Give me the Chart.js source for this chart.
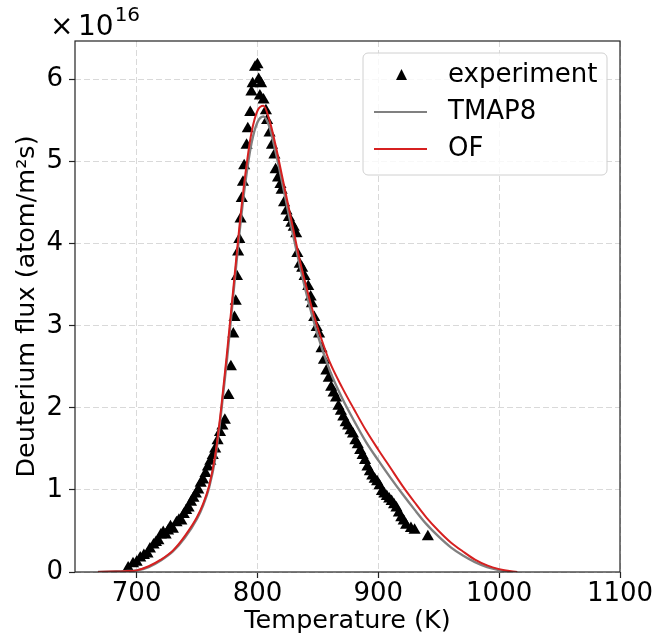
<!DOCTYPE html>
<html>
<head>
<meta charset="utf-8">
<script src="https://cdn.jsdelivr.net/npm/chart.js@4.4.1/dist/chart.umd.min.js"></script>
<style>
  html, body { margin: 0; padding: 0; background: #fff; }
  #wrap { width: 655px; height: 637px; }
</style>
</head>
<body>
<div id="wrap"><canvas id="tdsChart"></canvas></div>
<script>
// flux values are in units of 1e16 atom/m^2s
const expTemp = [693, 697, 700, 703, 706, 709, 711, 714, 716, 718, 720, 722, 724, 726, 728, 730, 733, 735, 737, 739,
  741, 743, 745, 747, 749, 751, 753, 755, 757, 759, 761, 763, 765, 767, 769, 771, 773,
  776, 778, 780, 781, 782, 783, 784, 785, 786, 787, 788, 789, 791, 792, 794, 795, 796, 798, 800, 801, 802, 803, 805, 807, 808,
  810, 812, 814, 815, 817, 819, 820, 822, 824, 826, 828, 830, 832, 833, 835, 837, 839, 842, 844, 845, 847, 849,
  851, 853, 855, 857, 859, 861, 863, 865, 867, 869, 871, 873, 875, 877, 879, 881, 883, 885, 887, 889,
  891, 893, 895, 897, 899, 901, 903, 905, 907, 909, 911, 913, 915, 917, 919, 921, 923, 927, 930, 941];
const expFlux = [0.05, 0.10, 0.12, 0.17, 0.20, 0.22, 0.28, 0.33, 0.36, 0.38, 0.45, 0.48, 0.45, 0.50, 0.55, 0.52, 0.60, 0.63, 0.62, 0.70,
  0.75, 0.78, 0.85, 0.90, 0.95, 1.00, 1.08, 1.12, 1.20, 1.28, 1.35, 1.42, 1.50, 1.60, 1.70, 1.78, 1.85,
  2.15, 2.50, 2.90, 3.10, 3.30, 3.60, 3.90, 4.05, 4.30, 4.55, 4.75, 4.95, 5.20, 5.40, 5.60, 5.85, 5.95, 6.15, 6.18, 6.00, 5.80, 5.95, 5.75, 5.62, 5.50,
  5.35, 5.20, 5.08, 4.90, 4.80, 4.72, 4.65, 4.50, 4.40, 4.32, 4.25, 4.20, 4.12, 3.88, 3.75, 3.70, 3.60, 3.48, 3.35, 3.27, 3.10, 2.98,
  2.90, 2.72, 2.58, 2.45, 2.36, 2.25, 2.18, 2.12, 2.02, 1.96, 1.89, 1.82, 1.78, 1.72, 1.68, 1.60, 1.55, 1.48, 1.42, 1.36,
  1.28, 1.22, 1.17, 1.13, 1.10, 1.05, 0.98, 0.95, 0.92, 0.89, 0.86, 0.82, 0.78, 0.72, 0.66, 0.62, 0.57, 0.53, 0.51, 0.43];

const tmapTemp = [668, 680, 690, 700, 710, 720, 730, 740, 750, 755, 760, 765, 770, 775, 780, 785, 790, 795, 800, 805,
  810, 815, 820, 825, 830, 840, 850, 860, 870, 880, 890, 900, 910, 920, 930, 940, 950, 960, 970, 980, 990, 1000, 1008];
const tmapFlux = [0, 0.005, 0.01, 0.02, 0.06, 0.14, 0.25, 0.42, 0.65, 0.81, 1.03, 1.38, 1.95, 2.62, 3.38, 4.12, 4.75, 5.22, 5.48, 5.55,
  5.42, 5.12, 4.78, 4.42, 4.07, 3.42, 2.88, 2.45, 2.12, 1.84, 1.58, 1.36, 1.15, 0.95, 0.76, 0.58, 0.43, 0.30, 0.20, 0.12, 0.06, 0.025, 0];

const ofTemp = [668, 680, 690, 700, 710, 720, 730, 740, 750, 755, 760, 765, 770, 775, 780, 785, 790, 795, 800, 805,
  810, 815, 820, 825, 830, 835, 840, 845, 850, 855, 860, 870, 880, 890, 900, 910, 920, 930, 940, 950, 960, 970, 980, 990, 1000, 1010, 1015];
const ofFlux = [0, 0.005, 0.01, 0.02, 0.07, 0.15, 0.26, 0.44, 0.67, 0.83, 1.05, 1.42, 2.00, 2.70, 3.45, 4.20, 4.85, 5.35, 5.62, 5.68,
  5.50, 5.20, 4.85, 4.50, 4.15, 3.80, 3.50, 3.22, 2.97, 2.75, 2.55, 2.25, 1.98, 1.72, 1.49, 1.27, 1.05, 0.85, 0.66, 0.50, 0.36, 0.25, 0.15, 0.08, 0.035, 0.008, 0];

const xTicks = [700, 800, 900, 1000, 1100];
const yTicks = [0, 1, 2, 3, 4, 5, 6];
const legendLabels = ['experiment', 'TMAP8', 'OF'];

const FONT = 'DejaVu Sans';
const pts = (xs, ys) => xs.map((x, i) => ({x, y: ys[i]}));

const framePlugin = {
  id: 'frame',
  afterDraw(chart) {
    const {ctx, chartArea: a} = chart;
    ctx.save();
    ctx.strokeStyle = '#222';
    ctx.lineWidth = 1.2;
    ctx.strokeRect(a.left, a.top, a.right - a.left, a.bottom - a.top);

    // offset text  x10^16
    ctx.fillStyle = '#000';
    ctx.textBaseline = 'alphabetic';
    ctx.font = `28px "${FONT}"`;
    ctx.fillText('×', 50, 35);
    ctx.fillText('10', 78, 35);
    const w10 = ctx.measureText('10').width;
    ctx.font = `20px "${FONT}"`;
    ctx.fillText('16', 79 + w10, 21);

    // legend
    const lx = 363, ly = 53, lw = 244, lh = 122;
    ctx.beginPath();
    ctx.roundRect(lx, ly, lw, lh, 5);
    ctx.fillStyle = 'rgba(255,255,255,0.8)';
    ctx.fill();
    ctx.strokeStyle = '#d0d0d0';
    ctx.lineWidth = 1;
    ctx.stroke();

    const rows = [75, 112, 149];
    ctx.fillStyle = '#000';
    ctx.beginPath();
    ctx.moveTo(401.5, rows[0] - 6);
    ctx.lineTo(407, rows[0] + 5);
    ctx.lineTo(396, rows[0] + 5);
    ctx.closePath();
    ctx.fill();
    ctx.lineWidth = 2.2;
    ctx.strokeStyle = '#808080';
    ctx.beginPath(); ctx.moveTo(374, rows[1]); ctx.lineTo(427, rows[1]); ctx.stroke();
    ctx.strokeStyle = '#d62020';
    ctx.beginPath(); ctx.moveTo(374, rows[2]); ctx.lineTo(427, rows[2]); ctx.stroke();

    ctx.fillStyle = '#000';
    ctx.font = `26px "${FONT}"`;
    ctx.textBaseline = 'middle';
    legendLabels.forEach((t, i) => ctx.fillText(t, 448, rows[i]));
    ctx.restore();
  }
};

new Chart(document.getElementById('tdsChart'), {
  type: 'scatter',
  data: {
    datasets: [
      {
        label: legendLabels[0],
        data: pts(expTemp, expFlux),
        pointStyle: 'triangle',
        pointRadius: 7,
        backgroundColor: '#000',
        borderColor: '#000',
        borderWidth: 0,
        order: 3
      },
      {
        label: legendLabels[1],
        data: pts(tmapTemp, tmapFlux),
        showLine: true,
        borderColor: '#808080',
        borderWidth: 2.4,
        pointRadius: 0,
        cubicInterpolationMode: 'monotone',
        order: 2
      },
      {
        label: legendLabels[2],
        data: pts(ofTemp, ofFlux),
        showLine: true,
        borderColor: '#d62020',
        borderWidth: 2,
        pointRadius: 0,
        cubicInterpolationMode: 'monotone',
        order: 1
      }
    ]
  },
  options: {
    responsive: true,
    maintainAspectRatio: false,
    animation: false,
    layout: { padding: { top: 41, right: 35, left: 12, bottom: 0 } },
    plugins: { legend: { display: false }, tooltip: { enabled: false } },
    scales: {
      x: {
        type: 'linear',
        min: 649,
        max: 1100,
        afterBuildTicks: s => { s.ticks = xTicks.map(v => ({value: v})); },
        afterFit: s => { s.height = 65; },
        ticks: { color: '#000', font: { family: FONT, size: 26 }, padding: 1, maxRotation: 0, callback: v => String(v) },
        grid: { color: '#d9d9d9', tickColor: '#222', tickLength: 6, tickWidth: 1.2 },
        border: { display: false, dash: [6, 3] },
        title: { display: true, text: 'Temperature (K)', color: '#000', font: { family: FONT, size: 25.5 }, padding: { top: 0, bottom: 0 } }
      },
      y: {
        type: 'linear',
        min: 0,
        max: 6.47,
        afterBuildTicks: s => { s.ticks = yTicks.map(v => ({value: v})); },
        afterFit: s => { s.width = 63; },
        ticks: { color: '#000', font: { family: FONT, size: 26 }, padding: 6, callback: v => String(v) },
        grid: { color: '#d9d9d9', tickColor: '#222', tickLength: 6, tickWidth: 1.2 },
        border: { display: false, dash: [6, 3] },
        title: { display: true, text: 'Deuterium flux (atom/m²s)', color: '#000', font: { family: FONT, size: 25.5 }, padding: { top: 0, bottom: 0 } }
      }
    }
  },
  plugins: [framePlugin]
});
</script>
</body>
</html>
